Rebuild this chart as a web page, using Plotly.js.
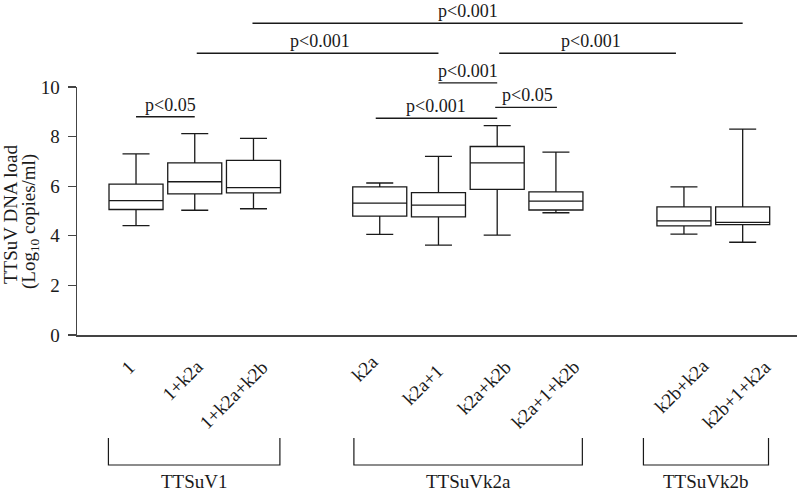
<!DOCTYPE html>
<html>
<head>
<meta charset="utf-8">
<script src="https://cdn.plot.ly/plotly-3.0.1.min.js"></script>
<style>html,body{margin:0;padding:0;background:#fff;}#chart{width:800px;height:493px;}</style>
</head>
<body>
<div id="chart"></div>
<script>
// ---- data ----
const categories = ['1', '1+k2a', '1+k2a+k2b', 'k2a', 'k2a+1', 'k2a+k2b', 'k2a+1+k2b', 'k2b+k2a', 'k2b+1+k2a'];
const xPos = [1, 2, 3, 5.15, 6.15, 7.15, 8.15, 10.33, 11.33];
const upperWhisker = [7.30, 8.12, 7.93, 6.13, 7.20, 8.44, 7.37, 5.97, 8.30];
const q3Values = [6.08, 6.94, 7.04, 5.97, 5.74, 7.60, 5.77, 5.17, 5.17];
const medianValues = [5.42, 6.18, 5.94, 5.32, 5.24, 6.94, 5.40, 4.60, 4.54];
const q1Values = [5.06, 5.69, 5.73, 4.79, 4.76, 5.87, 5.04, 4.40, 4.45];
const lowerWhisker = [4.41, 5.03, 5.09, 4.06, 3.62, 4.03, 4.93, 4.07, 3.74];

const groupNames = ['TTSuV1', 'TTSuVk2a', 'TTSuVk2b'];
const groupStart = [0.53, 4.71, 9.64];
const groupEnd = [3.45, 8.60, 11.77];

const compFrom = [2, 1, 5, 4, 3, 5, 0];
const compTo = [8, 4, 7, 5, 5, 6, 1];
const compLabel = ['p<0.001', 'p<0.001', 'p<0.001', 'p<0.001', 'p<0.001', 'p<0.05', 'p<0.05'];
const compLevel = [12.57, 11.36, 11.36, 10.17, 8.74, 9.18, 8.80];

const yTicks = [0, 2, 4, 6, 8, 10];

// ---- layout / style ----
const W = 800, H = 493;
const M = {l: 77, r: 3, t: 87, b: 158};
const PW = W - M.l - M.r, PH = H - M.t - M.b;
const xRange = [-0.005, 12.255];
const yRange = [0, 10];
const FONT = '"Liberation Serif", "Times New Roman", serif';
const INK = '#1a1a1a';

// label offsets (px) for rotated category labels
const labelDX = [5.5, 15, 21.5, 5, 11.8, 21, 30.5, 31, 34.8];
const labelDY = [-18.5, -18.5, -18.5, -13.5, -22.5, -18.8, -18.5, -17.2, -18.5];
// comparison fine-tuning (px)
const compStartDX = [-1, 2, 2, 0, -4, -2, 0];
const compEndDX = [0, 0, -8, 0, 0, 1, 0];
const compTextDX = [-30, 2, 3, 0, 0, 1, 5];

function xPaper(x, dpx) { return (x - xRange[0]) / (xRange[1] - xRange[0]) + (dpx || 0) / PW; }
function yPaper(y) { return (y - yRange[0]) / (yRange[1] - yRange[0]); }
function pxToPaperY(py) { return (M.t + PH - py) / PH; }

const trace = {
  type: 'box',
  x: xPos,
  q1: q1Values,
  median: medianValues,
  q3: q3Values,
  lowerfence: lowerWhisker,
  upperfence: upperWhisker,
  width: 0.92,
  whiskerwidth: 0.5,
  boxpoints: false,
  fillcolor: 'rgba(255,255,255,1)',
  line: {color: INK, width: 1.3},
  hoverinfo: 'skip',
  showlegend: false
};

const shapes = [];
const annotations = [];

// category labels
categories.forEach((c, i) => {
  annotations.push({
    text: c, x: xPos[i], xref: 'x', y: 0, yref: 'paper',
    xanchor: 'right', yanchor: 'top', textangle: -45,
    xshift: labelDX[i], yshift: labelDY[i],
    showarrow: false, font: {family: FONT, size: 19, color: INK}
  });
});

// group brackets
const bTop = pxToPaperY(438), bBot = pxToPaperY(465);
groupNames.forEach((g, i) => {
  const x0 = xPaper(groupStart[i]), x1 = xPaper(groupEnd[i]);
  shapes.push({type: 'path', xref: 'paper', yref: 'paper',
    path: `M ${x0} ${bTop} L ${x0} ${bBot} L ${x1} ${bBot} L ${x1} ${bTop}`,
    line: {color: INK, width: 1.2}});
  annotations.push({
    text: g, x: (x0 + x1) / 2, xref: 'paper', y: pxToPaperY(481), yref: 'paper',
    xanchor: 'center', yanchor: 'middle', showarrow: false, borderpad: 0,
    font: {family: FONT, size: 19, color: INK}
  });
});

// significance comparisons
compLabel.forEach((lab, i) => {
  const x0 = xPaper(xPos[compFrom[i]], compStartDX[i]);
  const x1 = xPaper(xPos[compTo[i]], compEndDX[i]);
  const y = yPaper(compLevel[i]);
  shapes.push({type: 'line', xref: 'paper', yref: 'paper', x0: x0, x1: x1, y0: y, y1: y,
    line: {color: INK, width: 1.3}});
  annotations.push({
    text: lab, x: (x0 + x1) / 2, xref: 'paper', y: y, yref: 'paper',
    xanchor: 'center', yanchor: 'bottom', xshift: compTextDX[i], yshift: 0,
    showarrow: false, font: {family: FONT, size: 18, color: INK}
  });
});

// y-axis title (two lines)
annotations.push({
  text: 'TTSuV DNA load', x: 0, xref: 'paper', y: pxToPaperY(215), yref: 'paper',
  xanchor: 'center', yanchor: 'middle', xshift: 10 - M.l, textangle: -90,
  showarrow: false, font: {family: FONT, size: 19, color: INK}
});
annotations.push({
  text: '(Log<sub>10</sub> copies/ml)', x: 0, xref: 'paper', y: pxToPaperY(222), yref: 'paper',
  xanchor: 'center', yanchor: 'middle', xshift: 30 - M.l, textangle: -90,
  showarrow: false, font: {family: FONT, size: 19, color: INK}
});

const layout = {
  width: W, height: H,
  margin: M,
  paper_bgcolor: '#fff', plot_bgcolor: '#fff',
  font: {family: FONT, size: 19, color: INK},
  showlegend: false,
  xaxis: {
    range: xRange, showgrid: false, zeroline: false, showticklabels: false,
    ticks: '', showline: true, linecolor: '#444', linewidth: 1.5, fixedrange: true
  },
  yaxis: {
    range: yRange, tickvals: yTicks, ticktext: yTicks.map(String),
    showgrid: false, zeroline: false, showline: true, linecolor: '#444', linewidth: 1.5,
    ticks: 'outside', ticklen: 8, tickwidth: 1.3, tickcolor: '#444',
    tickfont: {family: FONT, size: 19, color: INK}, ticklabelstandoff: 4, fixedrange: true
  },
  shapes: shapes,
  annotations: annotations
};

Plotly.newPlot('chart', [trace], layout, {displayModeBar: false, staticPlot: true});
</script>
</body>
</html>
